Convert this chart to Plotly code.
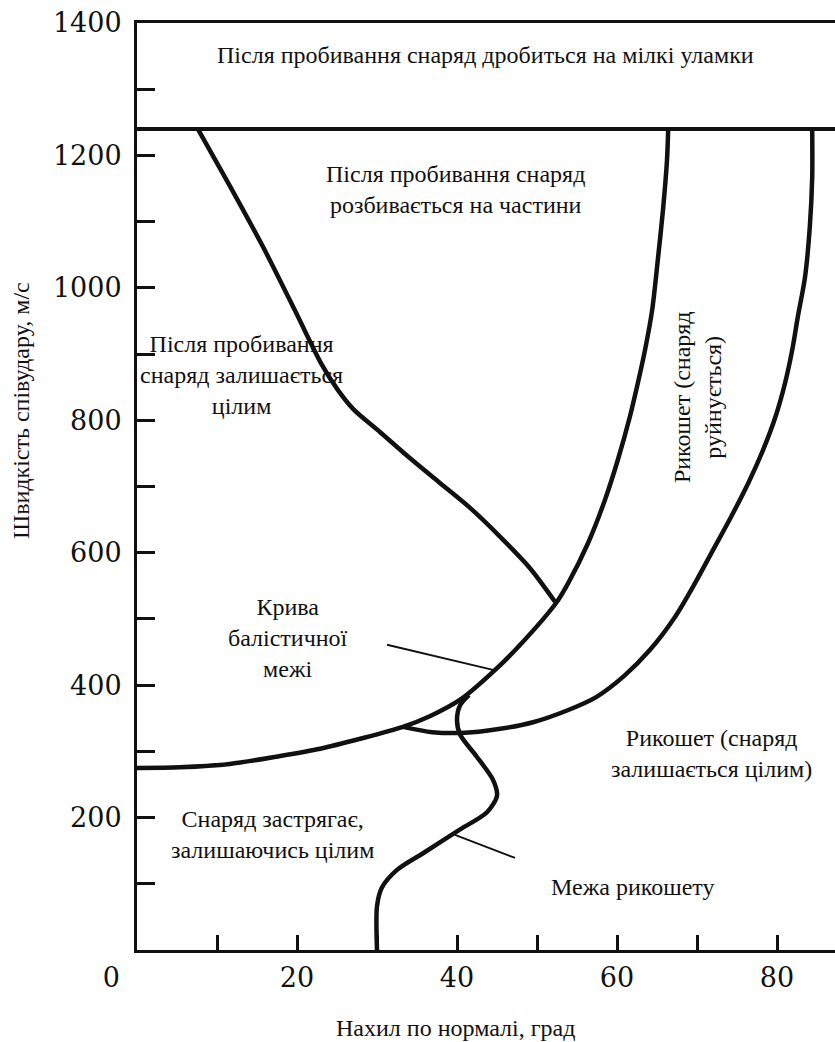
import plotly.graph_objects as go

# ---------------- data ----------------
# x: angle of obliquity (deg), y: striking velocity (m/s)
x_range_max = 87.25
y_range_max = 1400

shatter_velocity = 1240  # boundary: projectile shatters into small fragments

# boundary: after penetration projectile stays intact / breaks into pieces
breakup_x = [7.6, 11.6, 15.75, 19.9, 23.1, 25.1, 27.1, 30.4, 34.1, 37.9, 41.6, 45.4, 49.1, 52.25]
breakup_y = [1240, 1154, 1062, 962, 884, 846, 816, 782, 743, 705, 668, 624, 577, 526]

# ballistic limit curve
ballistic_x = [0.0, 5.4, 11.6, 17.9, 22.9, 27.9, 33.25, 36.6, 40.4, 44.5, 47.9, 52.5, 53.9, 56.4, 58.5,
               60.1, 61.6, 62.6, 63.5, 64.4, 65.1, 65.75, 66.25, 66.4]
ballistic_y = [275, 276, 281, 293, 304, 319, 337, 353, 378, 420, 461, 526, 554, 615, 680,
               740, 805, 856, 906, 967, 1042, 1118, 1193, 1240]

# ricochet (projectile destroyed) / ricochet (projectile intact) boundary
ricochet_break_x = [33.25, 36.9, 41.0, 45.4, 49.5, 53.6, 57.4, 60.9, 64.1, 67.25, 69.75, 72.0, 74.25,
                    76.4, 78.25, 79.8, 81.0, 81.9, 82.6, 83.5, 84.1, 84.4, 84.4]
ricochet_break_y = [337, 329, 328, 334, 344, 361, 382, 414, 453, 503, 554, 604, 654,
                    705, 755, 805, 856, 906, 956, 1016, 1092, 1167, 1240]

# ricochet limit
ricochet_limit_x = [41.5, 40.4, 40.0, 40.4, 42.4, 44.5, 45.0, 43.75, 40.1, 36.0, 32.5, 30.6, 30.0, 30.0]
ricochet_limit_y = [385, 370, 347, 325, 293, 257, 233, 208, 180, 148, 121, 94, 66, 0]

# leader lines for labels
leader_ballistic_x = [31.25, 44.5]
leader_ballistic_y = [461, 423]
leader_ricochet_x = [39.75, 47.25]
leader_ricochet_y = [174, 139]

x_tick_values = [0, 20, 40, 60, 80]
x_tick_labels = ['0', '20', '40', '60', '80']
y_tick_values = [200, 400, 600, 800, 1000, 1200, 1400]
y_tick_labels = ['200', '400', '600', '800', '1000', '1200', '1400']

region_labels = [
    ('Після пробивання снаряд дробиться на мілкі уламки', 43.5, 1352, 0),
    ('Після пробивання снаряд<br>розбивається на частини', 39.75, 1148, 0),
    ('Після пробивання<br>снаряд залишається<br>цілим', 13.1, 868, 0),
    ('Крива<br>балістичної<br>межі', 18.9, 471, 0),
    ('Снаряд застрягає,<br>залишаючись цілим', 16.9, 174, 0),
    ('Межа рикошету', 62.0, 95, 0),
    ('Рикошет (снаряд<br>залишається цілим)', 71.75, 297, 0),
    ('Рикошет (снаряд<br>руйнується)', 70.0, 835, -90),
]

x_title = 'Нахил по нормалі, град'
y_title = 'Швидкість співудару, м/с'

# ---------------- figure ----------------
INK = '#111111'
TEXT_FONT = dict(family='Liberation Serif, DejaVu Serif, serif', size=24, color=INK)

fig = go.Figure()

curve_style = dict(color=INK, width=4.5, shape='spline', smoothing=0.8)

fig.add_trace(go.Scatter(x=[0, x_range_max], y=[shatter_velocity, shatter_velocity],
                         mode='lines', line=dict(color=INK, width=4), hoverinfo='skip'))
for xs, ys in [(breakup_x, breakup_y), (ballistic_x, ballistic_y),
               (ricochet_break_x, ricochet_break_y), (ricochet_limit_x, ricochet_limit_y)]:
    fig.add_trace(go.Scatter(x=xs, y=ys, mode='lines', line=curve_style, hoverinfo='skip'))
for xs, ys in [(leader_ballistic_x, leader_ballistic_y), (leader_ricochet_x, leader_ricochet_y)]:
    fig.add_trace(go.Scatter(x=xs, y=ys, mode='lines', line=dict(color=INK, width=1.8), hoverinfo='skip'))

for text, xv, yv, ang in region_labels:
    fig.add_annotation(x=xv, y=yv, xref='x', yref='y', text=text, showarrow=False,
                       textangle=ang, font=TEXT_FONT, align='center',
                       xanchor='center', yanchor='middle')

# axis titles (placed like the reference)
fig.add_annotation(x=0.457, y=-0.084, xref='paper', yref='paper', text=x_title, showarrow=False,
                   font=TEXT_FONT, xanchor='center', yanchor='middle')
fig.add_annotation(x=-0.166, y=0.5815, xref='paper', yref='paper', text=y_title, showarrow=False,
                   textangle=-90, font=TEXT_FONT, xanchor='center', yanchor='middle')

TICK_FONT = dict(family='DejaVu Serif, serif', size=27, color=INK)
x_tick_text = [lbl + '\u2007\u2007\u2007' if v == 0 else lbl for v, lbl in zip(x_tick_values, x_tick_labels)]

fig.update_xaxes(range=[0, x_range_max], showgrid=False, zeroline=False,
                 showline=True, linecolor=INK, linewidth=3, mirror=True,
                 tickmode='array', tickvals=x_tick_values, ticktext=x_tick_text,
                 ticks='inside', ticklen=15, tickwidth=3, tickcolor=INK,
                 minor=dict(dtick=10, tick0=0, ticks='inside', ticklen=15, tickwidth=3, tickcolor=INK),
                 tickfont=TICK_FONT, ticklabelstandoff=2, fixedrange=True)
fig.update_yaxes(range=[0, y_range_max], showgrid=False, zeroline=False,
                 showline=True, linecolor=INK, linewidth=3,
                 tickmode='array', tickvals=y_tick_values, ticktext=y_tick_labels,
                 ticks='inside', ticklen=18, tickwidth=3, tickcolor=INK,
                 minor=dict(dtick=100, tick0=0, ticks='inside', ticklen=18, tickwidth=3, tickcolor=INK),
                 tickfont=TICK_FONT, ticklabelstandoff=7, fixedrange=True)

fig.update_layout(width=835, height=1042, showlegend=False,
                  margin=dict(l=137, r=0, t=23, b=92),
                  paper_bgcolor='white', plot_bgcolor='white')

fig.write_html('out.html', config={'displayModeBar': False})
